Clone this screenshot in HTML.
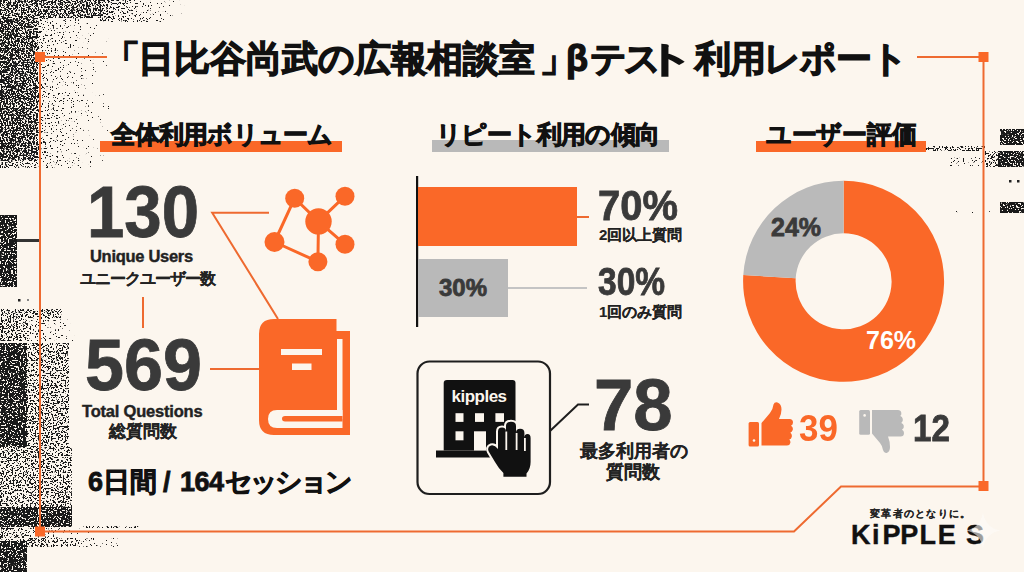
<!DOCTYPE html>
<html><head><meta charset="utf-8">
<style>
*{margin:0;padding:0;box-sizing:border-box}
html,body{width:1024px;height:572px;overflow:hidden;background:#fcf6ee}
body{position:relative;font-family:"Liberation Sans",sans-serif;color:#111}
.a{position:absolute;white-space:nowrap;line-height:1;transform-origin:0 0}
.t{font-weight:bold}
.j{font-weight:bold;-webkit-text-stroke:0.15px currentColor}
.tt{font-size:36px;-webkit-text-stroke:1.3px #111}
.dd{font-size:27px;-webkit-text-stroke:0.8px #111}
.lg{font-size:27px;color:#111;-webkit-text-stroke:0.4px #111}
.num{font-weight:bold;color:#3a3a3a;-webkit-text-stroke:0.8px #3a3a3a}
svg{position:absolute;left:0;top:0}
</style></head><body>
<svg width="1024" height="572" viewBox="0 0 1024 572">
  <defs>
    <filter id="nd" x="0" y="0" width="100%" height="100%" color-interpolation-filters="sRGB">
      <feTurbulence type="fractalNoise" baseFrequency="0.6" numOctaves="2" seed="5"/>
      <feColorMatrix type="matrix" values="0 0 0 0 0.1  0 0 0 0 0.1  0 0 0 0 0.1  30 0 0 0 -11.4"/>
      <feGaussianBlur stdDeviation="0.35"/>
      <feComposite in2="SourceGraphic" operator="in"/>
    </filter>
    <filter id="nm" x="0" y="0" width="100%" height="100%" color-interpolation-filters="sRGB">
      <feTurbulence type="fractalNoise" baseFrequency="0.6" numOctaves="2" seed="8"/>
      <feColorMatrix type="matrix" values="0 0 0 0 0.1  0 0 0 0 0.1  0 0 0 0 0.1  30 0 0 0 -16"/>
      <feGaussianBlur stdDeviation="0.35"/>
      <feComposite in2="SourceGraphic" operator="in"/>
    </filter>
    <filter id="ns" x="0" y="0" width="100%" height="100%" color-interpolation-filters="sRGB">
      <feTurbulence type="fractalNoise" baseFrequency="0.6" numOctaves="2" seed="11"/>
      <feColorMatrix type="matrix" values="0 0 0 0 0.1  0 0 0 0 0.1  0 0 0 0 0.1  30 0 0 0 -20"/>
      <feGaussianBlur stdDeviation="0.35"/>
      <feComposite in2="SourceGraphic" operator="in"/>
    </filter>
  <filter id="nmd" x="0" y="0" width="100%" height="100%" color-interpolation-filters="sRGB">
      <feTurbulence type="fractalNoise" baseFrequency="0.6" numOctaves="2" seed="13"/>
      <feColorMatrix type="matrix" values="0 0 0 0 0.1  0 0 0 0 0.1  0 0 0 0 0.1  30 0 0 0 -14.4"/>
      <feGaussianBlur stdDeviation="0.35"/>
      <feComposite in2="SourceGraphic" operator="in"/>
    </filter>
    <filter id="gs" x="0" y="0" width="100%" height="100%" color-interpolation-filters="sRGB">
      <feTurbulence type="fractalNoise" baseFrequency="0.6" numOctaves="2" seed="21" result="t"/>
      <feComposite in="t" in2="SourceGraphic" operator="arithmetic" k1="0" k2="1" k3="0.25" k4="0"/>
      <feColorMatrix type="matrix" values="0 0 0 0 0.1  0 0 0 0 0.1  0 0 0 0 0.1  0 0 0 30 -23"/>
      <feGaussianBlur stdDeviation="0.35"/>
    </filter>
    <filter id="gd" x="0" y="0" width="100%" height="100%" color-interpolation-filters="sRGB">
      <feTurbulence type="fractalNoise" baseFrequency="0.6" numOctaves="2" seed="23" result="t"/>
      <feComposite in="t" in2="SourceGraphic" operator="arithmetic" k1="0" k2="1" k3="0.22" k4="0"/>
      <feColorMatrix type="matrix" values="0 0 0 0 0.1  0 0 0 0 0.1  0 0 0 0 0.1  0 0 0 30 -21.6"/>
      <feGaussianBlur stdDeviation="0.35"/>
    </filter>
    <linearGradient id="gr" x1="0" x2="1" y1="0" y2="0"><stop offset="0" stop-color="#000" stop-opacity="1"/><stop offset="1" stop-color="#000" stop-opacity="0"/></linearGradient>
  </defs>
  <!-- noise blocks -->
  <g fill="#000">
    <rect x="0" y="0" width="101" height="18" filter="url(#nmd)"/>
    <rect x="0" y="18" width="110" height="150" fill="url(#gr)" filter="url(#gs)"/>
    <rect x="0" y="18" width="38" height="143" filter="url(#nmd)"/>
    <rect x="0" y="215" width="17" height="72" filter="url(#nd)"/>
    <rect x="0" y="309" width="62" height="9" filter="url(#nm)"/>
    <rect x="0" y="318" width="75" height="23" fill="url(#gr)" filter="url(#gd)"/>
    <rect x="0" y="343" width="27" height="104" filter="url(#nd)"/>
    <rect x="27" y="343" width="42" height="104" filter="url(#nm)"/>
    <rect x="0" y="447" width="72" height="60" filter="url(#nm)"/>
    <rect x="0" y="507" width="72" height="20" filter="url(#nd)"/>
    <rect x="0" y="527" width="90" height="14" fill="url(#gr)" filter="url(#gs)"/>
    <rect x="0" y="541" width="27" height="31" filter="url(#nd)"/>
    <rect x="1000" y="129" width="24" height="16" filter="url(#nd)"/>
    <rect x="998" y="151" width="26" height="16" filter="url(#nd)"/>
    <rect x="985" y="151" width="15" height="16" filter="url(#nm)"/>
    <rect x="1000" y="202" width="24" height="11" filter="url(#nd)"/>
    <rect x="925" y="146" width="60" height="5" filter="url(#nm)"/>
    <rect x="950" y="157" width="35" height="9" filter="url(#ns)"/>
    <rect x="79" y="526" width="60" height="2" filter="url(#nm)"/>
    <rect x="100" y="0" width="90" height="22" fill="url(#gr)" filter="url(#gs)"/>
    <rect x="955" y="211" width="45" height="2" filter="url(#ns)"/>
    <rect x="27" y="538" width="95" height="9" fill="url(#gr)" filter="url(#gd)"/>
  </g>
  <rect x="1009" y="180" width="2.5" height="2.5" fill="#222"/><rect x="1017" y="180" width="2.5" height="2.5" fill="#222"/>
  <rect x="18" y="299" width="2.5" height="2.5" fill="#222"/><rect x="27" y="299" width="2" height="2" fill="#888"/>
  <rect x="17" y="239" width="23" height="3" fill="#333"/>
  <!-- frame lines -->
  <g stroke="#ee6a30" stroke-width="2" fill="none">
    <path d="M107 57 H40 V531.5 H794 L841 486.5 H983.5 V57 H917"/>
    <path d="M269 212.7 H212.2 L278 319"/>
    <path d="M143 297 V328"/>
    <path d="M210 369 H260"/>
    <path d="M577 217 H589"/>
  </g>
  <g fill="#fa6828">
    <rect x="35" y="52" width="10" height="10"/>
    <rect x="978.5" y="52" width="10" height="10"/>
    <rect x="35" y="526.5" width="10" height="10"/>
    <rect x="978.5" y="481" width="10" height="10"/>
  </g>
  <!-- header bars -->
  <rect x="100" y="141" width="242" height="11" fill="#fa6828"/>
  <rect x="432" y="140" width="237" height="12" fill="#b9b9b9"/>
  <rect x="756" y="141" width="170" height="11" fill="#fa6828"/>
  <!-- network icon -->
  <g stroke="#fa6828" stroke-width="3" fill="none">
    <path d="M294.7 198.2 L318.5 221.4 L345 196.2 M318.5 221.4 L345 244.3 M318.5 221.4 L317.9 261.7 M274.5 242 L294.7 198.2 M274.5 242 L317.9 261.7"/>
  </g>
  <g fill="#fa6828">
    <circle cx="294.7" cy="198.2" r="9.5"/>
    <circle cx="345" cy="196.2" r="9.5"/>
    <circle cx="318.5" cy="221.4" r="13.2"/>
    <circle cx="274.5" cy="242" r="10"/>
    <circle cx="345" cy="244.3" r="9.5"/>
    <circle cx="317.9" cy="261.7" r="9.5"/>
  </g>
  <!-- book -->
  <path d="M274 319 H336.5 V331 H350 V435 H274 Q259 435 259 420 V334 Q259 319 274 319 Z" fill="#fa6828"/>
  <g fill="#fcf6ee">
    <rect x="281" y="349" width="41" height="6"/>
    <rect x="292" y="363.5" width="19.5" height="6.5"/>
    <rect x="337" y="339" width="5.5" height="80"/>
    <path d="M277 410 H342.5 V428 H277 Q268 428 268 419 Q268 410 277 410 Z"/>
  </g>
  <path d="M285 416 H342.5 V421.5 H285 Q282 421.5 282 418.75 Q282 416 285 416 Z" fill="#fa6828"/>
  <!-- bar chart -->
  <rect x="416" y="176" width="2.2" height="151" fill="#111"/>
  <rect x="418" y="187" width="159" height="59" fill="#fa6828"/>
  <rect x="418" y="259" width="90" height="58" fill="#b9b9b9"/>
  <rect x="508" y="287" width="79" height="2" fill="#c4c4c4"/>
  <!-- kipples box -->
  <rect x="417.5" y="361.5" width="132.5" height="132.5" rx="12" fill="none" stroke="#1e1e1e" stroke-width="2.2"/>
  <path d="M550 431 L578 404.5 H589" stroke="#1e1e1e" stroke-width="2" fill="none"/>
  <path d="M447 380 H512.5 Q515.5 380 515.5 383 V450.5 H443.7 V383 Q443.7 380 447 380 Z" fill="#111"/>
  <rect x="436" y="450.5" width="60" height="7" fill="#111"/>
  <g fill="#fcf6ee">
    <rect x="455.5" y="413.2" width="8" height="8.7"/>
    <rect x="475" y="413.2" width="9" height="8.7"/>
    <rect x="495.4" y="413.2" width="8.6" height="8.7"/>
    <rect x="455.5" y="431.3" width="8" height="9"/>
    <rect x="474" y="431.3" width="12" height="19.2"/>
  </g>
  <!-- hand -->
  <path d="M489 452 Q486.5 447 491 445.5 Q494.5 444.5 498 449 L498 431.5 Q498 427.5 502 427.5 Q506 427.5 506 431.5 L506 426 Q506 421.8 511 421.8 Q516 421.8 516 426 L516 433 Q516 428.8 520.2 428.8 Q524.4 428.8 524.4 433 L524.4 438 Q524.4 434 527.5 434 Q530.6 434 530.6 438 L530.6 462 Q530.6 469 526.5 473.5 L526.5 476.8 H503.4 V473 Q499 469 495 462 Z" fill="#111" stroke="#fcf6ee" stroke-width="4" paint-order="stroke"/>
  <g stroke="#fcf6ee" stroke-width="1.8">
    <path d="M506.3 431.5 V450 M516.6 433 V450 M524.9 438 V451"/>
  </g>
  <!-- donut -->
  <path d="M843.6 180.8 A100.5 100.5 0 1 1 743.3 275 L795.7 278.3 A48 48 0 1 0 843.6 233.3 Z" fill="#fa6828"/>
  <path d="M843.6 180.8 A100.5 100.5 0 0 0 743.3 275 L795.7 278.3 A48 48 0 0 1 843.6 233.3 Z" fill="#bababa"/>
  <!-- thumbs up -->
  <g fill="#fa6828">
    <rect x="748.6" y="421.9" width="10.4" height="24.7" rx="1.5"/>
    <path d="M761.5 423 L770 413 Q773 409 773.5 404.5 Q774.5 401.8 777.5 402.5 Q781.5 404 781.5 409.5 Q781.5 414 779 419 L789.5 419 Q793 419 793 422.5 Q793 424.8 791 425.8 Q793.3 427 792.8 429.8 Q792.3 432 790.3 432.7 Q792.3 434 791.8 436.7 Q791.3 439 789.3 439.6 Q790.8 441 790.3 443 Q789.8 445.5 787 445.5 L761.5 445.5 Z"/>
  </g>
  <circle cx="754" cy="440.5" r="1.3" fill="#fcf6ee"/>
  <!-- thumbs down -->
  <g fill="#b9b9b9">
    <rect x="859.2" y="410" width="10.8" height="24.7" rx="1.5"/>
    <path d="M872 433.5 L880 443 Q882.5 446 883 450 Q884 453.5 886.5 453 Q890 452 890 447 Q890 441.5 888 436.5 L900.5 436.5 Q904 436.5 904 433 Q904 430.8 902 429.8 Q904.3 428.6 903.8 425.8 Q903.3 423.6 901.3 423 Q903.3 421.7 902.8 419 Q902.3 416.7 900.3 416 Q901.8 414.7 901.3 412.7 Q900.8 410 898 410 L872 410 Z"/>
  </g>
  <circle cx="864.6" cy="415.4" r="1.3" fill="#fcf6ee"/>
</svg>

<div class="a j tt" style="left:104px;top:41px">「</div>
<div class="a j tt" id="tB" style="left:138px;top:41px;letter-spacing:0px">日比谷尚武の広報相談室</div>
<div class="a j tt" style="left:540px;top:41px">」</div>
<div class="a j tt" style="left:566px;top:41px">β</div>
<div class="a j tt" id="tE" style="left:590px;top:41px;letter-spacing:-3px">テス</div><div class="a j tt" style="left:645px;top:41px;transform:scaleX(1.35)">ト</div>
<div class="a j tt" id="tF" style="left:695px;top:41px;letter-spacing:-1px">利用</div>
<div class="a j tt" id="tG" style="left:764px;top:41px;letter-spacing:-1px">レポート</div>

<div class="a j" id="h1" style="left:111px;top:122px;font-size:25px;letter-spacing:-0.9px;-webkit-text-stroke:1px #111">全体利用ボリューム</div>
<div class="a j" id="h2" style="left:436px;top:122px;font-size:25px;letter-spacing:-0.6px;-webkit-text-stroke:1px #111">リピート利用の傾向</div>
<div class="a j" id="h3" style="left:766px;top:122px;font-size:25px;letter-spacing:-0.3px;-webkit-text-stroke:1px #111">ユーザー評価</div>

<div class="a num" id="n130" style="left:86.5px;top:174.7px;font-size:73px;transform:scaleX(0.92)">130</div>
<div class="a t" id="uu" style="left:90px;top:248px;font-size:16.5px;color:#222;letter-spacing:-0.3px;-webkit-text-stroke:0.4px #222">Unique Users</div>
<div class="a j" id="uuj" style="left:80px;top:270.5px;font-size:15.5px;letter-spacing:-1px;color:#222">ユニークユーザー数</div>

<div class="a num" id="n569" style="left:85px;top:327.5px;font-size:73px;transform:scaleX(0.96)">569</div>
<div class="a t" id="tq" style="left:82px;top:403px;font-size:16.5px;color:#222;letter-spacing:-0.2px;-webkit-text-stroke:0.4px #222">Total Questions</div>
<div class="a j" id="tqj" style="left:109px;top:423px;font-size:17px;color:#222">総質問数</div>

<div class="a j dd" style="left:88px;top:469px">6日間</div>
<div class="a j dd" style="left:163px;top:469px">/</div>
<div class="a j dd" style="left:180px;top:469px;letter-spacing:-0.5px">164</div>
<div class="a j dd" id="sess" style="left:225px;top:469px;letter-spacing:-3px">セッション</div>

<div class="a num" id="p70" style="left:598px;top:185px;font-size:42px;transform:scaleX(0.95)">70%</div>
<div class="a j" id="p70j" style="left:599px;top:227px;font-size:15px;color:#222">2回以上質問</div>
<div class="a num" id="p30b" style="left:439px;top:276px;font-size:24px">30%</div>
<div class="a num" id="p30" style="left:598px;top:263.2px;font-size:38.5px;transform:scaleX(0.87)">30%</div>
<div class="a j" id="p30j" style="left:599px;top:304px;font-size:15px;color:#222">1回のみ質問</div>

<div class="a t" id="kip" style="left:451.5px;top:388px;font-size:17px;color:#fcf6ee;letter-spacing:-0.5px">kipples</div>

<div class="a num" id="n78" style="left:593.7px;top:368.7px;font-size:72.5px;transform:scaleX(0.975)">78</div>
<div class="a j" id="m1" style="left:580px;top:442px;font-size:18px;color:#222">最多利用者の</div>
<div class="a j" id="m2" style="left:606px;top:463px;font-size:18px;color:#222">質問数</div>

<div class="a num" id="p24" style="left:771px;top:215px;font-size:25px">24%</div>
<div class="a t" id="p76" style="left:866px;top:328px;font-size:25px;color:#fff">76%</div>

<div class="a t" id="n39" style="left:799px;top:411px;font-size:36px;color:#fa6828;transform:scaleX(0.97)">39</div>
<div class="a num" id="n12" style="left:913px;top:411px;font-size:36px;transform:scaleX(0.92)">12</div>

<div class="a j" id="tag" style="left:870px;top:508.5px;font-size:10px;letter-spacing:1.3px;color:#222;-webkit-text-stroke:0.1px #222">変革者のとなりに。</div>
<div class="a t lg" style="left:851.0px;top:522px">K</div>
<div class="a t lg" style="left:872.0px;top:522px">i</div>
<div class="a t lg" style="left:882.5px;top:522px">P</div>
<div class="a t lg" style="left:900.3px;top:522px">P</div>
<div class="a t lg" style="left:919.4px;top:522px">L</div>
<div class="a t lg" style="left:937.7px;top:522px">E</div>
<div class="a t lg" style="left:966.0px;top:522px">S</div>
<svg width="1024" height="572" viewBox="0 0 1024 572" style="pointer-events:none">
  <path d="M983 512.5 Q985.5 528 1000.5 530.5 Q985.5 533 983 548.5 Q980.5 533 965.5 530.5 Q980.5 528 983 512.5 Z" fill="#fdfbf8" fill-opacity="0.6"/>
</svg>
</body></html>
